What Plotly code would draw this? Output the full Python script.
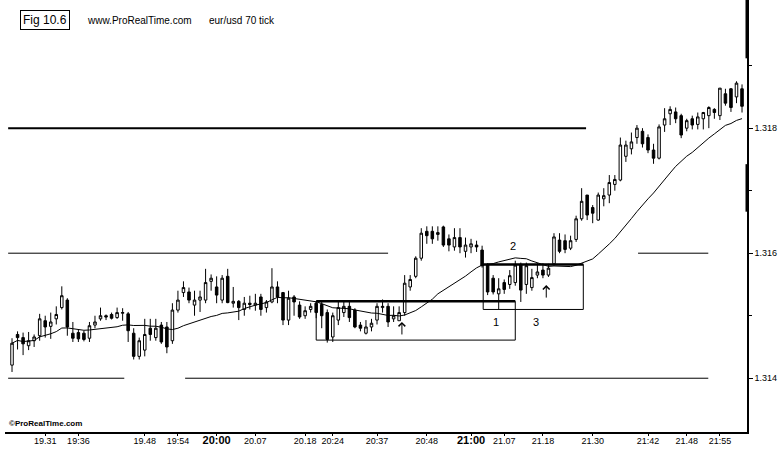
import plotly.graph_objects as go
import pandas as pd

# ---------------- data (EUR/USD, 70-tick bars) ----------------
open_ = [1.31421,1.31470,1.31465,1.31452,1.31460,1.31468,1.31492,1.31483,1.31495,1.31513,1.31525,
         1.31472,1.31473,1.31472,1.31464,1.31485,1.31495,1.31500,1.31502,1.31497,1.31504,
         1.31503,1.31472,1.31435,1.31445,1.31480,1.31465,1.31485,1.31482,1.31460,1.31509,
         1.31537,1.31538,1.31517,1.31525,1.31525,1.31555,1.31546,1.31525,1.31563,1.31520,
         1.31523,1.31510,1.31520,1.31517,1.31530,1.31513,1.31522,1.31546,1.31537,1.31493,1.31530,
         1.31517,1.31500,1.31510,1.31520,1.31518,1.31505,1.31466,1.31493,1.31505,1.31515,1.31509,
         1.31485,1.31472,1.31482,1.31493,1.31513,1.31515,1.31495,1.31492,1.31505,1.31546,1.31563,
         1.31592,1.31635,1.31635,1.31630,1.31642,1.31623,1.31610,1.31625,1.31603,1.31610,
         1.31613,1.31605,1.31582,1.31560,1.31535,1.31553,1.31550,1.31553,1.31582,1.31550,
         1.31545,1.31565,1.31573,1.31565,1.31583,1.31621,1.31620,1.31608,1.31622,
         1.31655,1.31693,1.31673,1.31653,1.31687,1.31693,1.31710,1.31717,1.31755,
         1.31767,1.31785,1.31795,1.31785,1.31765,1.31752,1.31805,1.31823,1.31826,
         1.31820,1.31800,1.31815,1.31806,1.31815,1.31820,1.31830,1.31820,1.31855,
         1.31863,1.31850,1.31863]
high = [1.31464,1.31475,1.31473,1.31474,1.31470,1.31503,1.31500,1.31505,1.31515,1.31547,1.31528,
        1.31490,1.31478,1.31476,1.31490,1.31500,1.31513,1.31502,1.31505,1.31513,1.31512,
        1.31506,1.31480,1.31465,1.31495,1.31495,1.31495,1.31490,1.31490,1.31520,1.31540,
        1.31555,1.31545,1.31540,1.31540,1.31575,1.31566,1.31563,1.31565,1.31575,1.31546,
        1.31525,1.31530,1.31532,1.31535,1.31535,1.31525,1.31576,1.31555,1.31538,1.31540,1.31533,
        1.31523,1.31515,1.31520,1.31522,1.31522,1.31510,1.31505,1.31523,1.31525,1.31523,1.31512,
        1.31490,1.31493,1.31495,1.31520,1.31526,1.31520,1.31515,1.31515,1.31565,1.31565,1.31595,
        1.31640,1.31643,1.31643,1.31643,1.31644,1.31630,1.31640,1.31640,1.31625,1.31623,
        1.31620,1.31612,1.31584,1.31565,1.31560,1.31558,1.31573,1.31588,1.31585,1.31585,
        1.31575,1.31584,1.31584,1.31583,1.31632,1.31632,1.31630,1.31628,1.31660,
        1.31704,1.31693,1.31677,1.31697,1.31704,1.31725,1.31725,1.31785,1.31780,
        1.31793,1.31805,1.31800,1.31790,1.31775,1.31806,1.31832,1.31835,1.31833,
        1.31823,1.31815,1.31820,1.31825,1.31826,1.31835,1.31832,1.31864,1.31863,
        1.31864,1.31875,1.31870]
low = [1.31410,1.31446,1.31437,1.31445,1.31450,1.31460,1.31465,1.31463,1.31486,1.31510,1.31468,
       1.31458,1.31458,1.31459,1.31458,1.31480,1.31492,1.31493,1.31494,1.31495,1.31492,
       1.31458,1.31430,1.31430,1.31435,1.31460,1.31460,1.31455,1.31440,1.31455,1.31505,
       1.31530,1.31520,1.31500,1.31506,1.31520,1.31540,1.31520,1.31520,1.31520,1.31513,
       1.31493,1.31500,1.31510,1.31508,1.31500,1.31505,1.31520,1.31520,1.31485,1.31485,1.31500,
       1.31495,1.31495,1.31505,1.31496,1.31480,1.31457,1.31458,1.31485,1.31498,1.31490,1.31480,
       1.31475,1.31470,1.31475,1.31486,1.31505,1.31482,1.31490,1.31492,1.31500,1.31540,1.31560,
       1.31588,1.31615,1.31615,1.31620,1.31610,1.31603,1.31604,1.31600,1.31593,1.31600,
       1.31602,1.31577,1.31533,1.31534,1.31510,1.31535,1.31543,1.31548,1.31522,1.31535,
       1.31540,1.31560,1.31560,1.31562,1.31580,1.31600,1.31600,1.31605,1.31618,
       1.31652,1.31653,1.31648,1.31652,1.31675,1.31680,1.31700,1.31715,1.31746,
       1.31758,1.31775,1.31769,1.31760,1.31743,1.31750,1.31794,1.31805,1.31808,
       1.31784,1.31795,1.31798,1.31798,1.31798,1.31800,1.31815,1.31813,1.31836,
       1.31826,1.31840,1.31825]
close = [1.31456,1.31465,1.31455,1.31460,1.31466,1.31495,1.31482,1.31490,1.31502,1.31532,1.31482,
         1.31464,1.31463,1.31462,1.31484,1.31490,1.31500,1.31498,1.31496,1.31505,1.31505,
         1.31476,1.31435,1.31460,1.31470,1.31470,1.31480,1.31458,1.31450,1.31509,1.31525,
         1.31545,1.31525,1.31525,1.31530,1.31553,1.31560,1.31533,1.31560,1.31521,1.31523,
         1.31513,1.31520,1.31518,1.31520,1.31510,1.31522,1.31546,1.31530,1.31493,1.31528,1.31522,
         1.31498,1.31508,1.31515,1.31505,1.31500,1.31462,1.31500,1.31513,1.31515,1.31497,1.31482,
         1.31480,1.31482,1.31488,1.31515,1.31515,1.31490,1.31500,1.31505,1.31552,1.31558,1.31592,
         1.31632,1.31628,1.31623,1.31633,1.31613,1.31613,1.31625,1.31610,1.31613,1.31615,
         1.31610,1.31580,1.31538,1.31538,1.31543,1.31542,1.31564,1.31581,1.31541,1.31580,
         1.31561,1.31570,1.31565,1.31576,1.31626,1.31603,1.31606,1.31620,1.31655,
         1.31683,1.31661,1.31664,1.31693,1.31692,1.31713,1.31718,1.31773,1.31773,
         1.31778,1.31800,1.31775,1.31765,1.31752,1.31802,1.31815,1.31830,1.31815,
         1.31789,1.31812,1.31805,1.31818,1.31825,1.31833,1.31825,1.31864,1.31840,
         1.31833,1.31872,1.31835]

bar_index = list(range(len(close)))

# time labels printed under specific bars
time_tick_bars = [6, 12, 24, 30, 37, 44, 53, 58, 66, 75, 83, 89, 96, 105, 115, 122, 128]
time_tick_text = ["19.31", "19:36", "19.48", "19:54", "<b><span style='font-size:11px'>20:00</span></b>",
                  "20.07", "20.18", "20:24", "20:37", "20:48",
                  "<b><span style='font-size:11px'>21:00</span></b>", "21.07", "21.18", "21.30",
                  "21:42", "21.48", "21:55"]

price_ticks = [1.314, 1.316, 1.318]
price_tick_text = ["1.314", "1.316", "1.318"]
price_minor_ticks = [1.315, 1.317, 1.319]

ma_period = 20
ma = pd.Series(close).rolling(ma_period, min_periods=1).mean()

# ---------------- figure ----------------
FONT = "Arial, Liberation Sans, sans-serif"
fig = go.Figure()

fig.add_trace(go.Candlestick(
    x=bar_index, open=open_, high=high, low=low, close=close,
    increasing=dict(line=dict(color="black", width=1), fillcolor="white"),
    decreasing=dict(line=dict(color="black", width=1), fillcolor="black"),
    whiskerwidth=0, showlegend=False, hoverinfo="skip"))

fig.add_trace(go.Scatter(x=bar_index, y=ma, mode="lines",
                         line=dict(color="black", width=1), showlegend=False,
                         hoverinfo="skip"))

shapes = []
def hline(x0, x1, y, w):
    shapes.append(dict(type="line", xref="x", yref="y", x0=x0, x1=x1, y0=y, y1=y,
                       line=dict(color="black", width=w)))

# support / resistance lines
hline(-0.7, 103.8, 1.3180, 2)
hline(-0.7, 68.0, 1.3160, 1)
hline(113.2, 125.9, 1.3160, 1)
hline(-0.7, 20.3, 1.3140, 1)
hline(31.3, 125.9, 1.3140, 1)

# consolidation boxes
for (x0, x1, y0, y1) in [(55.0, 91.0, 1.31461, 1.31523), (85.2, 103.3, 1.31510, 1.31582)]:
    shapes.append(dict(type="rect", xref="x", yref="y", x0=x0, x1=x1, y0=y0, y1=y1,
                       line=dict(color="black", width=1), fillcolor="rgba(0,0,0,0)"))
    hline(x0, x1, y1, 2.5)

# thicker spots on the right axis
for (p0, p1) in [(0.865, 1.0), (0.51, 0.62)]:
    shapes.append(dict(type="line", xref="paper", yref="paper", x0=1, x1=1, y0=p0, y1=p1,
                       line=dict(color="black", width=3)))

annotations = [
    dict(text="Fig 10.6", xref="paper", yref="paper", x=0.054, y=0.953, showarrow=False,
         font=dict(family=FONT, size=12, color="black"), bordercolor="black",
         borderwidth=1, borderpad=2, xanchor="center", yanchor="middle"),
    dict(text="www.ProRealTime.com", xref="paper", yref="paper", x=0.108, y=0.953,
         showarrow=False, font=dict(family=FONT, size=10, color="black"),
         xanchor="left", yanchor="middle"),
    dict(text="eur/usd 70 tick", xref="paper", yref="paper", x=0.272, y=0.953,
         showarrow=False, font=dict(family=FONT, size=10, color="black"),
         xanchor="left", yanchor="middle"),
    dict(text="<b>©ProRealTime.com</b>", xref="paper", yref="paper", x=0.003, y=0.004,
         showarrow=False, font=dict(family=FONT, size=8, color="black"),
         xanchor="left", yanchor="bottom"),
    dict(text="2", x=90.6, y=1.31611, showarrow=False,
         font=dict(family=FONT, size=11, color="black")),
    dict(text="1", x=87.5, y=1.31490, showarrow=False,
         font=dict(family=FONT, size=11, color="black")),
    dict(text="3", x=94.8, y=1.31490, showarrow=False,
         font=dict(family=FONT, size=11, color="black")),
]
# entry arrows (tip position, pointing up)
for (ax_bar, ay_price) in [(70.5, 1.31490), (96.6, 1.31549)]:
    annotations.append(dict(text="", x=ax_bar, y=ay_price, showarrow=True, ax=0, ay=14,
                            arrowhead=4, arrowsize=1.3, arrowwidth=1, arrowcolor="black",
                            standoff=0))

fig.update_layout(
    width=781, height=453,
    margin=dict(l=5, r=34, t=0, b=21, pad=0),
    paper_bgcolor="white", plot_bgcolor="white",
    boxgap=0.35,
    shapes=shapes, annotations=annotations,
    font=dict(family=FONT, color="black"),
    xaxis=dict(range=[-1.27, 132.9], rangeslider=dict(visible=False),
               showgrid=False, zeroline=False, showline=True, linecolor="black",
               linewidth=1.5, ticks="outside", ticklen=2, tickcolor="black",
               tickvals=time_tick_bars, ticktext=time_tick_text, ticklabelstandoff=-3,
               tickfont=dict(family=FONT, size=9, color="black")),
    yaxis=dict(range=[1.31314, 1.32005], side="right", showgrid=False, zeroline=False,
               showline=True, linecolor="black", linewidth=1.5, ticks="outside",
               ticklen=4, tickcolor="black", tickvals=price_ticks,
               ticktext=price_tick_text,
               tickfont=dict(family=FONT, size=9, color="black"),
               minor=dict(tickvals=price_minor_ticks, ticks="outside", ticklen=3,
                          tickcolor="black")),
)

fig.write_html("out.html", config={"displayModeBar": False},
               post_script="document.body.style.margin='0';")
